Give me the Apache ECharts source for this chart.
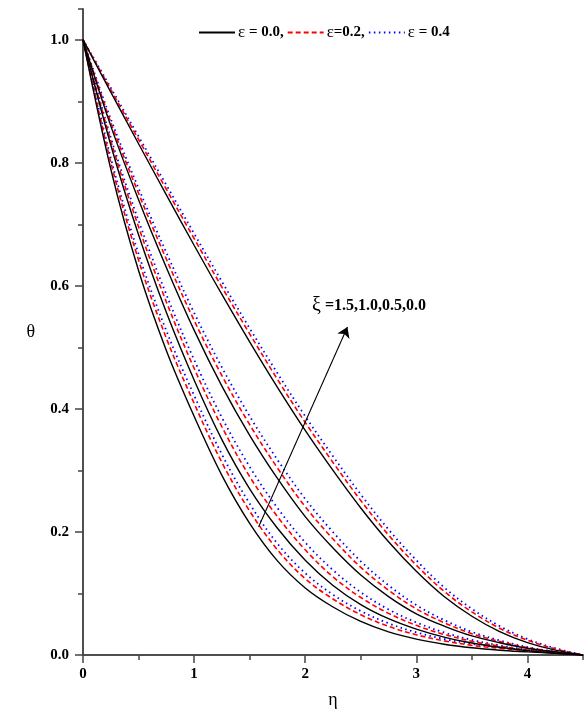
<!DOCTYPE html>
<html>
<head>
<meta charset="utf-8">
<title>theta profiles</title>
<script src="https://cdn.jsdelivr.net/npm/echarts@6/dist/echarts.min.js"></script>
<style>
  html, body { margin: 0; padding: 0; background: #fff; }
  #main { width: 585px; height: 710px; }
</style>
</head>
<body>
<div id="main"></div>
<script>
// eta grid
var eta = [0, 0.25, 0.5, 0.75, 1, 1.25, 1.5, 1.75, 2, 2.25, 2.5, 2.75, 3, 3.25, 3.5, 3.75, 4, 4.25, 4.5];

// xi = 0.0
var xi00_e00 = [1, 0.915, 0.831, 0.748, 0.666, 0.586, 0.509, 0.435, 0.365, 0.300, 0.239, 0.184, 0.136, 0.095, 0.063, 0.038, 0.020, 0.008, 0];
var xi00_e02 = [1, 0.919, 0.838, 0.757, 0.677, 0.598, 0.522, 0.448, 0.378, 0.313, 0.251, 0.195, 0.146, 0.1035, 0.070, 0.0435, 0.024, 0.010, 0];
var xi00_e04 = [1, 0.922, 0.843, 0.764, 0.685, 0.607, 0.531, 0.458, 0.388, 0.323, 0.261, 0.204, 0.154, 0.110, 0.075, 0.047, 0.026, 0.011, 0];
// xi = 0.5
var xi05_e00 = [1, 0.860, 0.740, 0.630, 0.528, 0.437, 0.357, 0.287, 0.225, 0.174, 0.130, 0.095, 0.067, 0.047, 0.031, 0.020, 0.011, 0.005, 0];
var xi05_e02 = [1, 0.866, 0.7505, 0.6436, 0.5439, 0.4541, 0.3745, 0.304, 0.2411, 0.1885, 0.1425, 0.1052, 0.0749, 0.0525, 0.0347, 0.0221, 0.012, 0.0053, 0];
var xi05_e04 = [1, 0.8713, 0.7587, 0.6542, 0.5563, 0.4675, 0.3882, 0.3173, 0.2537, 0.1998, 0.1523, 0.1132, 0.0811, 0.0568, 0.0376, 0.0237, 0.0128, 0.0056, 0];
// xi = 1.0
var xi10_e00 = [1, 0.829, 0.683, 0.557, 0.447, 0.350, 0.270, 0.206, 0.154, 0.113, 0.082, 0.059, 0.042, 0.029, 0.0195, 0.0125, 0.007, 0.003, 0];
var xi10_e02 = [1, 0.836, 0.696, 0.574, 0.466, 0.371, 0.290, 0.225, 0.171, 0.127, 0.0935, 0.0677, 0.0482, 0.0334, 0.0224, 0.0143, 0.008, 0.0035, 0];
var xi10_e04 = [1, 0.841, 0.706, 0.586, 0.480, 0.386, 0.306, 0.239, 0.183, 0.138, 0.102, 0.074, 0.053, 0.0366, 0.0245, 0.0157, 0.0086, 0.0038, 0];
// xi = 1.5
var xi15_e00 = [1, 0.790, 0.625, 0.495, 0.388, 0.292, 0.214, 0.153, 0.109, 0.078, 0.0545, 0.0375, 0.0258, 0.0175, 0.0117, 0.0078, 0.0051, 0.0026, 0];
var xi15_e02 = [1, 0.801, 0.642, 0.515, 0.409, 0.313, 0.234, 0.171, 0.124, 0.091, 0.0655, 0.0465, 0.0328, 0.023, 0.0157, 0.0108, 0.0071, 0.0036, 0];
var xi15_e04 = [1, 0.808, 0.652, 0.527, 0.422, 0.326, 0.246, 0.181, 0.133, 0.098, 0.0715, 0.0515, 0.0368, 0.026, 0.0182, 0.0123, 0.0081, 0.0041, 0];

var legendNames = ['ε = 0.0,', 'ε=0.2,', 'ε = 0.4'];
var xTicks = [0, 1, 2, 3, 4];
var yTicks = [0.0, 0.2, 0.4, 0.6, 0.8, 1.0];

// arrow of the xi annotation (data coords)
var arrowFrom = [1.58, 0.208];
var arrowTo = [2.38, 0.533];

var serif = '"Liberation Serif", "DejaVu Serif", serif';

function pairs(ys) {
    var out = [];
    for (var i = 0; i < eta.length; i++) {
        out.push([eta[i], ys[i]]);
    }
    return out;
}

var styles = [
    { color: '#000000', type: 'solid', width: 1.4 },
    { color: '#ff0000', type: [5, 3], width: 1.6 },
    { color: '#0000ff', type: [1.5, 3.5], width: 1.8 }
];

var groups = [
    [xi00_e04, xi00_e02, xi00_e00],
    [xi05_e04, xi05_e02, xi05_e00],
    [xi10_e04, xi10_e02, xi10_e00],
    [xi15_e04, xi15_e02, xi15_e00]
];

var series = [];
for (var g = 0; g < groups.length; g++) {
    for (var k = 0; k < 3; k++) {
        var idx = 2 - k; // 0 = eps 0.0, 1 = 0.2, 2 = 0.4
        series.push({
            name: legendNames[idx],
            type: 'line',
            xAxisIndex: 0,
            yAxisIndex: 0,
            data: pairs(groups[g][k]),
            smooth: 0.35,
            showSymbol: false,
            symbol: 'none',
            silent: true,
            z: 2 + (2 - idx),
            lineStyle: {
                color: styles[idx].color,
                type: styles[idx].type,
                width: styles[idx].width
            },
            itemStyle: { color: styles[idx].color }
        });
    }
}

series[0].markLine = {
    silent: true,
    symbol: ['none', 'arrow'],
    symbolSize: 10,
    label: { show: false },
    lineStyle: { color: '#000', width: 1.1, type: 'solid' },
    data: [[{ coord: arrowFrom }, { coord: arrowTo }]]
};

var axisLineStyle = { color: '#444', width: 1.5 };

var myChart = echarts.init(document.getElementById('main'));

var option = {
    animation: false,
    backgroundColor: '#fff',
    grid: [
        { left: 83, right: 2, top: 9, bottom: 55, outerBoundsMode: 'none' },
        { left: 83, right: 2, top: 9, bottom: 55, outerBoundsMode: 'none' }
    ],
    legend: {
        data: legendNames,
        left: 193,
        top: 19,
        itemWidth: 36,
        itemHeight: 14,
        itemGap: 3,
        selectedMode: false,
        itemStyle: { opacity: 0 },
        formatter: function (name) {
            return '{e|ε}{n|' + name.slice(1) + '}';
        },
        textStyle: {
            padding: [0, 0, 0, -2],
            rich: {
                e: { fontFamily: serif, fontSize: 17, color: '#000' },
                n: { fontFamily: serif, fontSize: 15, fontWeight: 'bold', color: '#000' }
            }
        }
    },
    xAxis: [
        {
            type: 'value', gridIndex: 0, position: 'bottom',
            min: 0, max: 4.5, interval: 1,
            name: 'η', nameLocation: 'middle', nameGap: 36,
            nameTextStyle: { fontFamily: serif, fontSize: 18, color: '#000' },
            axisLine: { show: true, lineStyle: axisLineStyle },
            axisTick: { show: true, inside: false, length: 8, lineStyle: axisLineStyle },
            axisLabel: {
                margin: 12, showMaxLabel: false,
                fontFamily: serif, fontSize: 15, fontWeight: 'bold', color: '#000',
                formatter: function (v) { return xTicks.indexOf(v) >= 0 ? String(v) : ''; }
            },
            splitLine: { show: false }
        },
        {
            type: 'value', gridIndex: 0, position: 'top',
            min: 0, max: 4.5, interval: 0.5,
            axisLine: { show: true, lineStyle: axisLineStyle },
            axisTick: { show: true, inside: true, length: 5, lineStyle: axisLineStyle },
            axisLabel: { show: false },
            splitLine: { show: false }
        },
        {
            type: 'value', gridIndex: 1, position: 'bottom',
            min: 0, max: 4.5, interval: 0.5,
            axisLine: { show: false },
            axisTick: { show: true, inside: false, length: 5, lineStyle: axisLineStyle },
            axisLabel: { show: false },
            splitLine: { show: false }
        }
    ],
    yAxis: [
        {
            type: 'value', gridIndex: 0, position: 'left',
            min: 0, max: 1.05, interval: 0.2,
            name: 'θ', nameLocation: 'middle', nameGap: 48, nameRotate: 0,
            nameTextStyle: { fontFamily: serif, fontSize: 18, color: '#000', padding: [18, 0, 0, 0] },
            axisLine: { show: true, lineStyle: axisLineStyle },
            axisTick: { show: true, inside: false, length: 8, lineStyle: axisLineStyle },
            axisLabel: {
                margin: 14, showMaxLabel: false,
                fontFamily: serif, fontSize: 15, fontWeight: 'bold', color: '#000',
                formatter: function (v) {
                    for (var i = 0; i < yTicks.length; i++) {
                        if (Math.abs(yTicks[i] - v) < 1e-6) return v.toFixed(1);
                    }
                    return '';
                }
            },
            splitLine: { show: false }
        },
        {
            type: 'value', gridIndex: 0, position: 'right',
            min: 0, max: 1.05, interval: 0.1,
            axisLine: { show: true, lineStyle: axisLineStyle },
            axisTick: { show: true, inside: true, length: 5, lineStyle: axisLineStyle },
            axisLabel: { show: false },
            splitLine: { show: false }
        },
        {
            type: 'value', gridIndex: 1, position: 'left',
            min: 0, max: 1.05, interval: 0.1,
            axisLine: { show: false },
            axisTick: { show: true, inside: false, length: 5, lineStyle: axisLineStyle },
            axisLabel: { show: false },
            splitLine: { show: false }
        }
    ],
    graphic: [
        {
            type: 'text',
            left: 312,
            top: 296,
            silent: true,
            style: {
                text: '{a|ξ}{b| =1.5,1.0,0.5,0.0}',
                rich: {
                    a: { fontFamily: serif, fontSize: 20, fill: '#000' },
                    b: { fontFamily: serif, fontSize: 16, fontWeight: 'bold', fill: '#000' }
                }
            }
        }
    ],
    series: series
};

myChart.setOption(option);
</script>
</body>
</html>
